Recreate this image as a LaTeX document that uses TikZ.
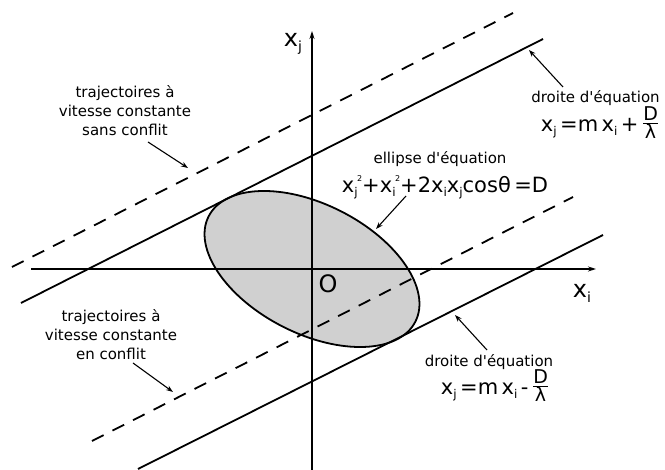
\documentclass[tikz,border=0pt]{standalone}
\usepackage{fontspec}
\setmainfont{DejaVu Sans}[Ligatures=TeXOff]
\usetikzlibrary{arrows.meta}
\definecolor{ellfill}{RGB}{208,208,208}
\newcommand{\eqf}{\fontsize{21}{25}\selectfont}
\newcommand{\sbf}{\fontsize{12}{12}\selectfont}
\newcommand{\spf}{\fontsize{8}{8}\selectfont}
\newcommand{\xsb}[1]{x\raisebox{-4pt}{\sbf #1}}
\newcommand{\xsq}[1]{x\raisebox{-4pt}{\sbf #1}\kern-0.5pt\raisebox{11.5pt}{\spf 2}}
\newcommand{\myfr}{\raisebox{3.5pt}{${\hbox{\fontsize{19}{19}\selectfont D}\above0.8pt\hbox{\fontsize{19}{19}\selectfont λ}}$}}
\begin{document}
\begin{tikzpicture}[x=1pt,y=-1pt,
  axis/.style={line width=1.2pt},
  solidl/.style={line width=1.8pt},
  dashl/.style={line width=1.8pt, dash pattern=on 13pt off 10pt},
  lead/.style={line width=1.1pt,-{Stealth[length=7pt,width=5pt]}},
  txt/.style={font=\fontsize{15}{19}\selectfont, align=center, inner sep=0pt},
  lbl/.style={font=\fontsize{15}{19}\selectfont, inner sep=0pt, anchor=base},
  eqn/.style={font=\eqf, inner sep=0pt, anchor=base},
  axl/.style={font=\fontsize{24}{28}\selectfont, inner sep=0pt, anchor=base}]
\useasboundingbox (0,0) rectangle (665,470);
\coordinate (O) at (312,269);
% ellipse
\draw[line width=1.8pt, fill=ellfill, rotate around={-27:(O)}] (O) ellipse [x radius=116pt, y radius=64.6pt];
% axes
\coordinate (hx0) at (31,269);
\coordinate (hx1) at (596,269);
\coordinate (vy0) at (312,470);
\coordinate (vy1) at (312,31);
\draw[axis,-{Stealth[length=8pt,width=5pt]}] (hx0) -- (hx1);
\draw[axis,-{Stealth[length=8pt,width=5pt]}] (vy0) -- (vy1);
% lines
\coordinate (ud0) at (12,267);
\coordinate (ud1) at (513,13);
\coordinate (us0) at (21,303);
\coordinate (us1) at (543,39);
\coordinate (md0) at (92,441);
\coordinate (md1) at (573,197);
\coordinate (ls0) at (138,469);
\coordinate (ls1) at (603,235);
\draw[dashl] (ud0) -- (ud1);
\draw[solidl] (us0) -- (us1);
\draw[dashl] (md0) -- (md1);
\draw[solidl] (ls0) -- (ls1);
% labels
\node[txt] (tsans) at (125,111) {trajectoires à\\vitesse constante\\sans conflit};
\node[txt] (tconf) at (111,335) {trajectoires à\\vitesse constante\\en conflit};
\node[lbl] (d1) at (595.5,103) {droite d'équation};
\node[eqn] (e1) at (600,132) {\xsb{j}\,=m\,\xsb{i}\,+\,\myfr};
\node[lbl] (d2) at (489,367) {droite d'équation};
\node[eqn] (e2) at (495,395) {\xsb{j}\,=m\,\xsb{i}\,-\,\myfr};
\node[lbl] (el) at (440,164) {ellipse d'équation};
\node[eqn] (e3) at (445,193) {\xsq{j}+\xsq{i}+2\xsb{i}\xsb{j}cosθ\,=D};
\node[axl] (ax) at (293,47) {x\raisebox{-5pt}{\fontsize{14}{14}\selectfont j}};
\node[axl] (ay) at (582,298) {x\raisebox{-5pt}{\fontsize{14}{14}\selectfont i}};
\node[axl] (on) at (328,293) {O};
% leaders
\coordinate (a1s) at (148,142); \coordinate (a1e) at (188,168);
\coordinate (a2s) at (133,363); \coordinate (a2e) at (173,392);
\coordinate (a3s) at (563,87);  \coordinate (a3e) at (529,50);
\coordinate (a4s) at (487,350); \coordinate (a4e) at (455,315);
\coordinate (a5s) at (406,196); \coordinate (a5e) at (376,229);
\draw[lead] (a1s) -- (a1e);
\draw[lead] (a2s) -- (a2e);
\draw[lead] (a3s) -- (a3e);
\draw[lead] (a4s) -- (a4e);
\draw[lead] (a5s) -- (a5e);
\end{tikzpicture}
\end{document}
